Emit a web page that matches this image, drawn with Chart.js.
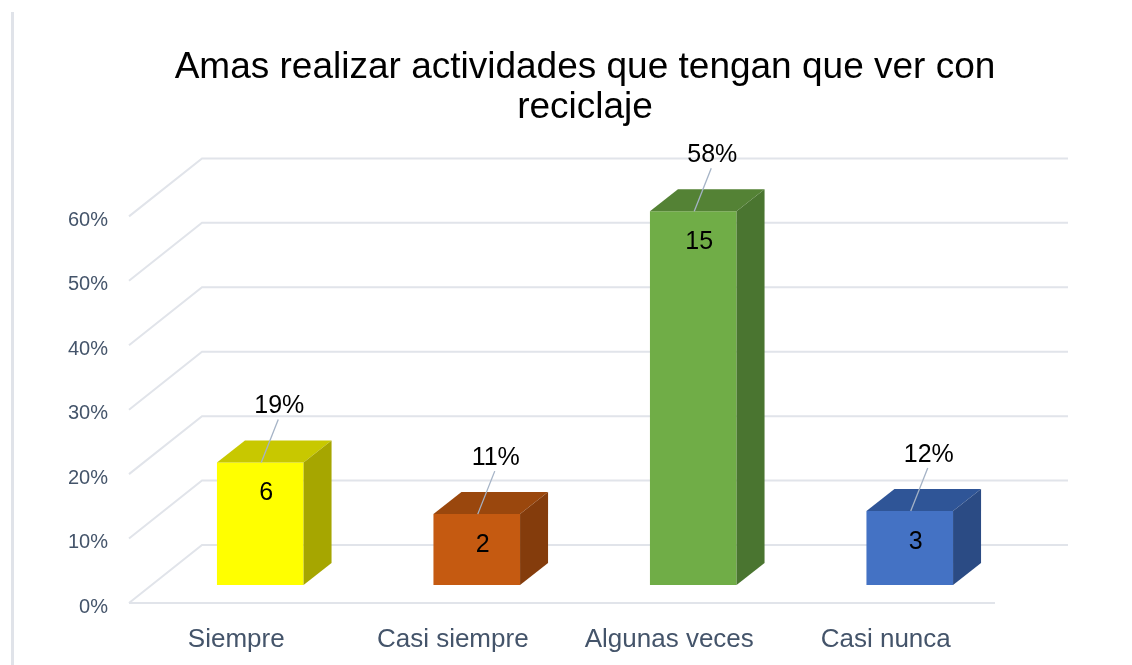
<!DOCTYPE html>
<html>
<head>
<meta charset="utf-8">
<script src="https://cdn.jsdelivr.net/npm/chart.js@4.4.1/dist/chart.umd.min.js"></script>
<style>
  html, body { margin: 0; padding: 0; background: #fff; }
  #wrap { position: relative; width: 1132px; height: 665px; overflow: hidden; }
  #edge { position: absolute; left: 11px; top: 12px; width: 3px; height: 653px; background: #e0e3e9; }
  #myChart { position: absolute; left: 0; top: 0; }
</style>
</head>
<body>
<div id="wrap">
  <div id="edge"></div>
  <canvas id="myChart" width="1132" height="665"></canvas>
</div>
<script>
'use strict';

// data
const categories = ['Siempre', 'Casi siempre', 'Algunas veces', 'Casi nunca'];
const percentValues = [0.19, 0.11, 0.58, 0.115];
const percentLabels = ['19%', '11%', '58%', '12%'];
const countLabels = ['6', '2', '15', '3'];
const titleLines = ['Amas realizar actividades que tengan que ver con', 'reciclaje'];

const frontColors = ['#ffff00', '#c55a11', '#70ad47', '#4472c4'];
const topColors = ['#c8c800', '#9a470d', '#548235', '#2f5597'];
const sideColors = ['#a6a600', '#843c0c', '#4a7530', '#2b4b84'];

const fontFamily = '"Liberation Sans", Arial, sans-serif';
const chartCanvas = document.getElementById('myChart');

// offsets of the fake 3d box (bar plane -> front floor / back wall)
const depthX = 28, depthY = -22;
const frontX = -23, frontY = 18;
const backX = 50, backY = -40;

const fake3d = {
  id: 'fake3d',
  beforeDatasetsDraw(chart) {
    const ctx = chart.ctx;
    const yScale = chart.scales.y;
    const left = chart.chartArea.left;
    const right = chart.chartArea.right;
    ctx.save();
    ctx.strokeStyle = '#e1e4ea';
    ctx.lineWidth = 2;
    yScale.ticks.forEach(t => {
      const py = yScale.getPixelForValue(t.value);
      ctx.beginPath();
      ctx.moveTo(left + frontX, py + frontY);
      ctx.lineTo(left + backX, py + backY);
      ctx.lineTo(right + backX, py + backY);
      ctx.stroke();
    });
    const p0 = yScale.getPixelForValue(0);
    ctx.beginPath();
    ctx.moveTo(left + frontX, p0 + frontY);
    ctx.lineTo(right + frontX, p0 + frontY);
    ctx.stroke();
    ctx.restore();
  },
  afterDatasetsDraw(chart) {
    const ctx = chart.ctx;
    const bars = chart.getDatasetMeta(0).data;
    ctx.save();
    bars.forEach((bar, i) => {
      const p = bar.getProps(['x', 'y', 'base', 'width'], true);
      const l = p.x - p.width / 2;
      const r = p.x + p.width / 2;
      // top face
      ctx.fillStyle = topColors[i];
      ctx.beginPath();
      ctx.moveTo(l, p.y);
      ctx.lineTo(r, p.y);
      ctx.lineTo(r + depthX, p.y + depthY);
      ctx.lineTo(l + depthX, p.y + depthY);
      ctx.closePath();
      ctx.fill();
      // side face
      ctx.fillStyle = sideColors[i];
      ctx.beginPath();
      ctx.moveTo(r, p.y);
      ctx.lineTo(r + depthX, p.y + depthY);
      ctx.lineTo(r + depthX, p.base + depthY);
      ctx.lineTo(r, p.base);
      ctx.closePath();
      ctx.fill();

      // leader line + percent label
      ctx.strokeStyle = '#a5b3c6';
      ctx.lineWidth = 1.3;
      ctx.beginPath();
      ctx.moveTo(p.x + 1, p.y);
      ctx.lineTo(p.x + 18, p.y - 43);
      ctx.stroke();

      ctx.fillStyle = '#000';
      ctx.font = '25px ' + fontFamily;
      ctx.textAlign = 'center';
      ctx.textBaseline = 'middle';
      ctx.fillText(percentLabels[i], p.x + 19, p.y - 56);
      ctx.fillText(countLabels[i], p.x + 6, p.y + 31);
    });
    ctx.restore();
  }
};

new Chart(chartCanvas, {
  type: 'bar',
  data: {
    labels: categories,
    datasets: [{
      data: percentValues,
      backgroundColor: frontColors,
      borderWidth: 0,
      barPercentage: 0.4,
      categoryPercentage: 1
    }]
  },
  options: {
    responsive: false,
    animation: false,
    layout: {
      padding: { left: 52, right: 114, top: 12, bottom: 10 }
    },
    plugins: {
      legend: { display: false },
      tooltip: { enabled: false },
      title: {
        display: true,
        fullSize: false,
        text: titleLines,
        color: '#000',
        font: { family: fontFamily, size: 37, weight: 'normal', lineHeight: 1.1 },
        padding: { top: 35, bottom: 70 }
      }
    },
    scales: {
      x: {
        grid: { display: false, drawTicks: false },
        border: { display: false },
        afterFit(scale) { scale.height = 70; },
        ticks: {
          color: '#44546a',
          font: { family: fontFamily, size: 26 },
          padding: 39,
          labelOffset: -24,
          maxRotation: 0
        }
      },
      y: {
        min: 0,
        max: 0.6,
        grid: { display: false, drawTicks: false },
        border: { display: false },
        afterFit(scale) { scale.width = 100; },
        ticks: {
          stepSize: 0.1,
          color: '#44546a',
          font: { family: fontFamily, size: 20 },
          padding: 44,
          labelOffset: 22,
          callback: v => Math.round(v * 100) + '%'
        }
      }
    }
  },
  plugins: [fake3d]
});
</script>
</body>
</html>
